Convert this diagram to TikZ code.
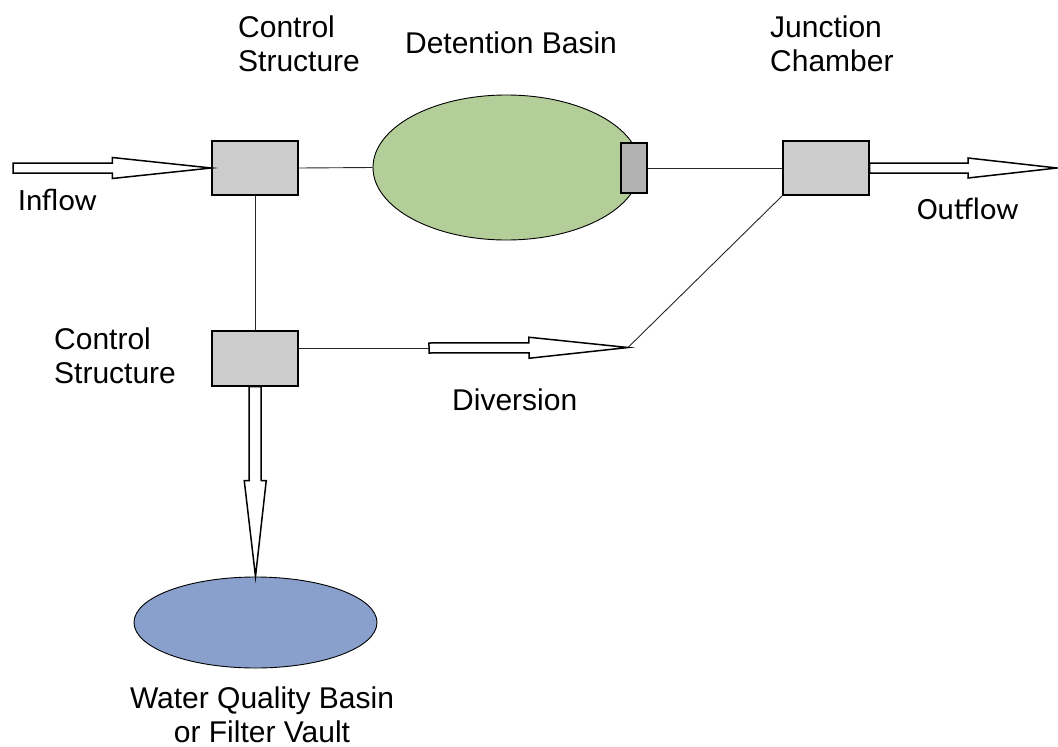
\documentclass[tikz,border=0pt]{standalone}
\usepackage{fontspec}
\setmainfont{Liberation Sans}
\newfontfamily\flowfont{Carlito}
\usetikzlibrary{shapes.geometric,calc}

\definecolor{boxgray}{HTML}{CCCCCC}
\definecolor{valvegray}{HTML}{B2B2B2}
\definecolor{basingreen}{HTML}{B3CE99}
\definecolor{basinblue}{HTML}{88A0CB}

\tikzset{
  chamber/.style={draw=black, line width=1.4pt, fill=boxgray, minimum width=86pt,
                  minimum height=54pt, inner sep=0pt, rectangle},
  valve/.style={draw=black, line width=1.4pt, fill=valvegray, minimum width=26pt,
                minimum height=50pt, inner sep=0pt, rectangle},
  basin/.style={draw=black, line width=0.9pt, ellipse, inner sep=0pt},
  pipe/.style={draw=black!85, line width=0.9pt},
  label/.style={font=\fontsize{30}{34}\selectfont, inner sep=0pt},
  flowlabel/.style={font=\flowfont\fontsize{31}{36}\selectfont, inner sep=0pt},
  blockarrow/.style={draw=black, line width=1.5pt, fill=white, line join=miter}
}

% block arrow from #1 to #2: shaft half width #3, head half width #4, head length #5
\newcommand{\flowarrow}[5]{%
  \path let \p1=(#1), \p2=(#2),
            \n1={atan2(\y2-\y1,\x2-\x1)},
            \n2={veclen(\x2-\x1,\y2-\y1)} in
    [shift={(\p1)}, rotate=\n1]
    (0,-#3) coordinate (a1)
    (\n2-#5,-#3) coordinate (a2)
    (\n2-#5,-#4) coordinate (a3)
    (\n2,0) coordinate (a4)
    (\n2-#5,#4) coordinate (a5)
    (\n2-#5,#3) coordinate (a6)
    (0,#3) coordinate (a7);
  \draw[blockarrow] (a1) -- (a2) -- (a3) -- (a4) -- (a5) -- (a6) -- (a7) -- cycle;
}

\begin{document}
\begin{tikzpicture}[x=1pt, y=-1pt]
\useasboundingbox (0,0) rectangle (1058,747);

% structures
\node[chamber] (cs1) at (255,168) {};
\node[basin, fill=basingreen, minimum width=267pt, minimum height=145pt] (db) at (506.5,167.5) {};
\node[valve] (ov) at (634,168) {};
\node[chamber] (jc) at (826,168) {};
\node[chamber, minimum height=55pt] (cs2) at (255,358.5) {};
\node[basin, fill=basinblue, minimum width=243pt, minimum height=91pt] (wq) at (255.5,622.5) {};

% connecting pipes
\draw[pipe] (cs1.east) -- (db.west);
\draw[pipe] (ov.east) -- (jc.west);
\draw[pipe] (cs1.south) -- (cs2.north);
\coordinate (divtail) at (429,348);
\coordinate (divtip) at (628,347.5);
\draw[pipe] (cs2.east |- divtail) -- (divtail);
\draw[pipe] (jc.south west) -- (divtip);

% flow arrows
\coordinate (intail) at (13,168);
\coordinate (outtip) at (1057,168);
\flowarrow{intail}{cs1.west}{5}{10.5}{99}
\flowarrow{jc.east}{outtip}{5}{10}{89}
\flowarrow{divtail}{divtip}{5}{10.5}{99}
\flowarrow{cs2.south}{wq.north}{6}{11}{96}

% labels (multi-line nodes sit on the baseline of their last line)
\node[label, anchor=base west, align=left] (lcs1) at (238,71) {Control\\Structure};
\node[label, anchor=base] (ldb) at (511,53) {Detention Basin};
\node[label, anchor=base west, align=left] (ljc) at (770,71) {Junction\\Chamber};
\node[flowlabel, anchor=base west] (lin) at (18,210) {Inflow};
\node[flowlabel, anchor=base west] (lout) at (917,219) {Outflow};
\node[label, anchor=base west, align=left] (lcs2) at (54,383) {Control\\Structure};
\node[label, anchor=base west] (ldiv) at (452,410) {Diversion};
\node[label, anchor=base, align=center] (lwq) at (262,742) {Water Quality Basin\\or Filter Vault};
\end{tikzpicture}
\end{document}
